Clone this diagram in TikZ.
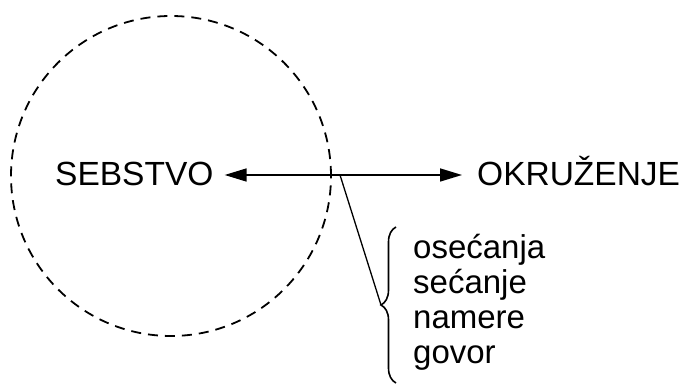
\documentclass[tikz,border=0pt]{standalone}
\usepackage{fontspec}
\setmainfont{Liberation Sans}
\usetikzlibrary{arrows.meta,decorations.pathreplacing}
\begin{document}
\begin{tikzpicture}[x=1pt,y=1pt,
  bigtext/.style={inner sep=0pt, font=\fontsize{33.5}{40}\selectfont},
  smalltext/.style={inner sep=0pt, anchor=base west, font=\fontsize{33}{40}\selectfont},
  boundary/.style={circle, draw, dashed, line width=1.8pt, dash pattern=on 10pt off 7pt, minimum size=320pt, inner sep=0pt},
  conn/.style={line width=1.6pt}]
\useasboundingbox (0,0) rectangle (683,385);
\node[boundary] (c) at (171,209) {};
\node[bigtext, anchor=base west] (s) at (55,199) {SEBSTVO};
\node[bigtext, anchor=base west] (o) at (477,199) {OKRUŽENJE};
\coordinate (x) at (340,210);
\draw[conn, {Triangle[length=22pt,width=13pt]}-{Triangle[length=22pt,width=13pt]}, shorten <=11pt, shorten >=15pt] (s.east |- x) -- (o.west |- x);
\draw[conn, line width=1.6pt, decorate, decoration={brace, amplitude=15pt}] (396,2) -- (396,158);
\coordinate (t) at (381,80);
\draw[conn, line width=1.3pt] (x) -- (t);
\node[smalltext] (l1) at (413,126) {osećanja};
\node[smalltext] (l2) at (413,91) {sećanje};
\node[smalltext] (l3) at (413,56) {namere};
\node[smalltext] (l4) at (413,21) {govor};
\end{tikzpicture}
\end{document}
